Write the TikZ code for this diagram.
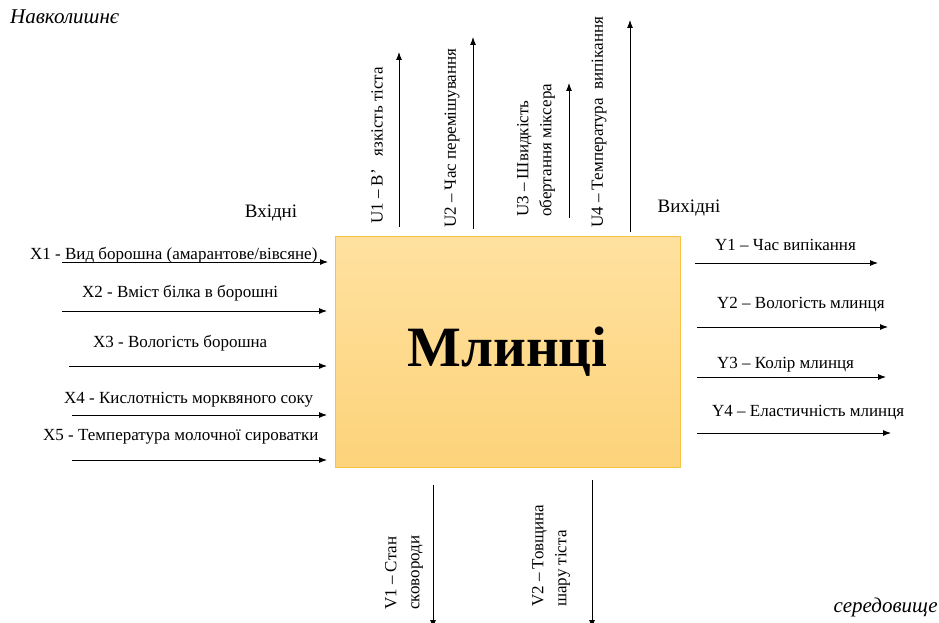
\documentclass[tikz,border=0pt]{standalone}
\usepackage{fontspec}
\setmainfont{Liberation Serif}
\usetikzlibrary{arrows.meta}
\definecolor{boxtop}{HTML}{FFE19F}
\definecolor{boxbot}{HTML}{FDD37B}
\definecolor{boxline}{HTML}{F6C444}
\newcommand{\lbl}{\fontsize{17}{23}\selectfont}
\newcommand{\hdr}{\fontsize{19}{21}\selectfont}

\begin{document}
\begin{tikzpicture}[x=1pt,y=-1pt,
   arr/.style={-{Latex[length=8pt,width=6pt]}, line width=0.9pt},
   lab/.style={font=\lbl, inner sep=0pt, anchor=west},
   vlab/.style={font=\lbl, inner sep=0pt, anchor=west, rotate=90, align=left}]
   \useasboundingbox (0,0) rectangle (939,623);
   % corner words
   \node[font=\fontsize{21}{23}\selectfont\itshape, inner sep=0pt, anchor=west] (env1) at (10,17) {Навколишнє};
   \node[font=\fontsize{21}{23}\selectfont\itshape, inner sep=0pt, anchor=east] (env2) at (938,607) {середовище};
   % the block
   \node[draw=boxline, line width=0.8pt, top color=boxtop, bottom color=boxbot,
         minimum width=345pt, minimum height=231pt,
         font=\fontsize{57}{62}\selectfont\bfseries] (blk) at (507.5,351.5) {Млинці};
   \node[font=\hdr, inner sep=0pt] (inw) at (271,213) {Вхідні};
   \node[font=\hdr, inner sep=0pt] (outw) at (689,208) {Вихідні};
   % inputs
   \node[lab] (x1) at (30,255) {X1 - Вид борошна (амарантове/вівсяне)};
   \node[lab] (x2) at (82,293) {X2 - Вміст білка в борошні};
   \node[lab] (x3) at (93,343) {X3 - Вологість борошна};
   \node[lab] (x4) at (64,400) {X4 - Кислотність морквяного соку};
   \node[lab] (x5) at (43,437) {X5 - Температура молочної сироватки};
   \foreach \n/\xa/\xb/\y in {x1/62/328/262, x2/62/327/311, x3/69/327/366,
                              x4/72/327/415, x5/72/327/460} {
    \coordinate (\n s) at (\xa,\y);
    \coordinate (\n e) at (\xb,\y);
    \draw[arr] (\n s) -- (\n e);
   }
   % outputs
   \node[lab] (y1) at (715,245) {Y1 – Час випікання};
   \node[lab] (y2) at (717,305) {Y2 – Вологість млинця};
   \node[lab] (y3) at (717,365) {Y3 – Колір млинця};
   \node[lab] (y4) at (712,413) {Y4 – Еластичність млинця};
   \foreach \n/\xa/\xb/\y in {y1/695/878/263, y2/697/888/327, y3/697/886/377,
                              y4/697/891/433} {
    \coordinate (\n s) at (\xa,\y);
    \coordinate (\n e) at (\xb,\y);
    \draw[arr] (\n s) -- (\n e);
   }
   % controls
   \node[vlab] (u1) at (377,224) {U1 – В’~~ язкість тіста};
   \node[vlab] (u2) at (452,228) {U2 – Час перемішування};
   \node[vlab] (u3) at (536,217) {U3 – Швидкість\\обертання міксера};
   \node[vlab] (u4) at (599,228) {U4 – Температура~ випікання};
   \foreach \n/\x/\ya/\yb in {u1/399/227/52, u2/473/229/37, u3/569/218/83,
                              u4/630/232/20} {
    \coordinate (\n s) at (\x,\ya);
    \coordinate (\n e) at (\x,\yb);
    \draw[arr] (\n s) -- (\n e);
   }
   % disturbances
   \node[vlab] (v1) at (404,610) {V1 – Стан\\сковороди};
   \node[vlab] (v2) at (551,607) {V2 – Товщина\\шару тіста};
   \foreach \n/\x/\ya/\yb in {v1/433/485/628, v2/592/480/628} {
    \coordinate (\n s) at (\x,\ya);
    \coordinate (\n e) at (\x,\yb);
    \draw[arr] (\n s) -- (\n e);
   }
\end{tikzpicture}
\end{document}
